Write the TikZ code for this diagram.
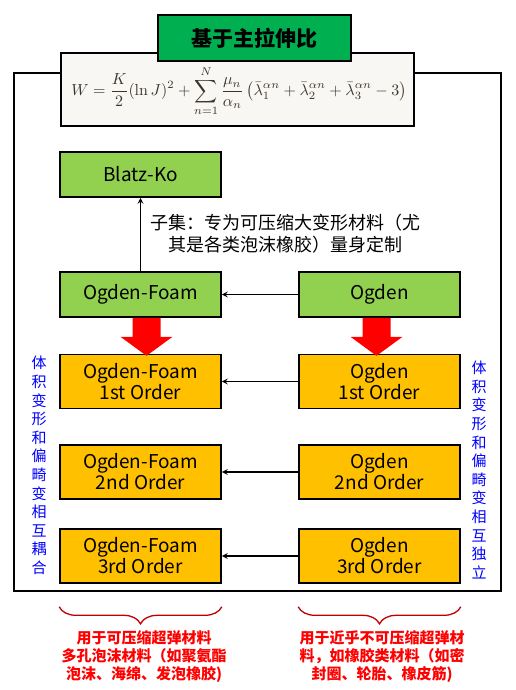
\documentclass[tikz,border=0pt]{standalone}
\usepackage[no-math]{fontspec}
\setmainfont{Noto Sans CJK SC}
\usepackage{tikz}
\usetikzlibrary{decorations.pathreplacing}

\definecolor{titlegrn}{RGB}{0,176,80}
\definecolor{lightgrn}{RGB}{146,208,80}
\definecolor{ordorange}{RGB}{255,192,0}
\definecolor{formbg}{RGB}{248,247,244}
\definecolor{formtxt}{RGB}{60,52,46}
\definecolor{bracered}{RGB}{192,0,0}

\begin{document}
\begin{tikzpicture} [x=1pt,y=-1pt,>=stealth,
    grnbox/.style= {draw,line width=1.6pt,fill=lightgrn,minimum width=161pt,minimum height=45pt,inner sep=0,font=\fontsize{19}{21}\selectfont},
    orgbox/.style= {grnbox,fill=ordorange,minimum height=54pt,align=center},
    link/.style= {->,line width=1.6pt},
    bigarrow/.style= {fill=red},
    sidetext/.style= {blue,align=center,font=\fontsize{15}{18.6}\selectfont},
    usetext/.style= {red,align=center,font=\bfseries\fontsize{15}{18}\selectfont},
    curly/.style= {bracered,line width=1.3pt,decorate,decoration={brace,mirror,amplitude=17pt}}]
    \useasboundingbox (0,0) rectangle (516,690);
    % outer frame and heading
    \draw[line width=1.8pt] (14,73) rectangle (501,591);
    \node[draw,line width=1.6pt,fill=formbg,minimum width=353pt,minimum height=73pt,inner sep=0] (form) at (237.5,89.5) {};
    \node[formtxt,inner sep=0] (formula) at (239,91) {\scalebox{1.6}{$\displaystyle W=\frac{K}{2}(\ln J)^2+\sum_{n=1}^{N}\frac{\mu_n}{\alpha_n}\left(\bar\lambda_1^{\alpha n}+\bar\lambda_2^{\alpha n}+\bar\lambda_3^{\alpha n}-3\right)$}};
    \node[draw,line width=1.6pt,fill=titlegrn,minimum width=193pt,minimum height=46pt,inner sep=0,font=\bfseries\fontsize{21}{24}\selectfont] (title) at (254.5,38) {基于主拉伸比};

    % green boxes
    \node[grnbox] (blatz) at (140.5,174.5) {Blatz-Ko};
    \node[grnbox] (foam) at (140.5,294.5) {Ogden-Foam};
    \node[grnbox] (ogden) at (379.5,294.5) {Ogden};
    \draw[link] (foam) -- (blatz);
    \draw[link] (ogden) -- (foam);
    \node[align=center,font=\fontsize{18}{22}\selectfont] (note) at (285,234) {子集：专为可压缩大变形材料（尤\\其是各类泡沫橡胶）量身定制};

    % order boxes
    \foreach \i/\y/\s in {1/381.5/1st,2/472/2nd,3/556/3rd}{%
        \node[orgbox] (of\i) at (140.5,\y) {Ogden-Foam\\ \s\ Order};
        \node[orgbox] (og\i) at (379.5,\y) {Ogden\\ \s\ Order};
        \draw[link] (og\i) -- (of\i);}

    % red block arrows
    \fill[bigarrow] ([xshift=-8pt]foam.south) -- ++(0,19) -- ++(-12,0) -- ++(26,19) -- ++(26,-19) -- ++(-12,0) -- ++(0,-19) -- cycle;
    \fill[bigarrow] ([xshift=-17pt]ogden.south) -- ++(0,19) -- ++(-12,0) -- ++(26,19) -- ++(26,-19) -- ++(-12,0) -- ++(0,-19) -- cycle;

    % side notes
    \node[sidetext] (left) at (39,465.5) {体\\积\\变\\形\\和\\偏\\畸\\变\\相\\互\\耦\\合};
    \node[sidetext] (right) at (479,470) {体\\积\\变\\形\\和\\偏\\畸\\变\\相\\互\\独\\立};

    % braces and uses
    \draw[curly] ([yshift=-23pt]of3.south west) -- ([yshift=-23pt]of3.south east);
    \draw[curly] ([yshift=-23pt]og3.south west) -- ([yshift=-23pt]og3.south east);
    \node[usetext] (usefoam) at (144,657) {用于可压缩超弹材料\\多孔泡沫材料（如聚氨酯\\泡沫、海绵、发泡橡胶)};
    \node[usetext] (useogden) at (382,657) {用于近乎不可压缩超弹材\\料，如橡胶类材料（如密\\封圈、轮胎、橡皮筋)};
\end{tikzpicture}
\end{document}
